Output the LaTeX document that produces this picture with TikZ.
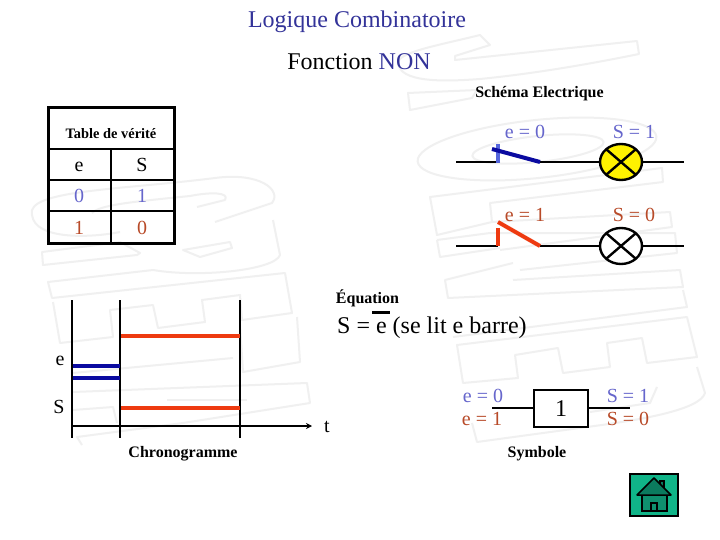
\documentclass[tikz,border=0pt]{standalone}
\usepackage{fontspec}
\setmainfont{Liberation Serif}
\usetikzlibrary{arrows.meta}
\definecolor{titleblue}{HTML}{333399}
\definecolor{softblue}{HTML}{6666CC}
\definecolor{softred}{HTML}{B84A28}
\definecolor{dkblue}{HTML}{0A0AA0}
\definecolor{tick}{HTML}{5566DD}
\definecolor{hot}{HTML}{EE3A10}
\definecolor{wm}{HTML}{F0F0F0}
\definecolor{btn}{HTML}{10B488}
\definecolor{roof}{HTML}{0B7A5E}
\definecolor{wall}{HTML}{0F8F6E}
\tikzset{
  lab/.style={inner sep=0pt,anchor=base,text=black},
  bigtxt/.style={lab,font=\fontsize{24}{26}\selectfont},
  midtxt/.style={lab,font=\fontsize{20}{22}\selectfont},
  captxt/.style={lab,font=\fontsize{16}{18}\selectfont\bfseries},
  wline/.style={draw=wm,line width=2pt,line join=round},
  wire/.style={draw=black,line width=2.4pt},
  lampbox/.style={draw=black,line width=2.4pt},
  bluesig/.style={draw=dkblue,line width=4pt},
  redsig/.style={draw=hot,line width=4pt},
  blt/.style={midtxt,text=softblue},
  rdt/.style={midtxt,text=softred},
}
\begin{document}
\begin{tikzpicture}[x=1pt,y=-1pt]
\useasboundingbox (0,0) rectangle (720,540);
\fill[white] (0,0) rectangle (720,540);
% watermark, right logo
\draw[wline] (490,45) -- (455,56) -- (455,60) -- (637,41) -- (639,54) .. controls (570,68) and (520,75) .. (480,79) .. controls (440,82) and (400,82) .. (398,63) .. controls (398,52) and (440,45) .. (480,35) -- cycle;
\draw[wline] (408,93) -- (477,90) -- (472,98) -- (410,110) -- cycle;
\draw[wline] (537,149) ellipse [x radius=120pt,y radius=29pt,rotate=6];
\draw[wline] (538,149) ellipse [x radius=66pt,y radius=13pt,rotate=6];
\draw[wline] (430,197) -- (662,168) -- (663,182) -- (490,203) -- (492,222) -- (437,235) -- cycle;
\draw[wline] (492,222) -- (670,212) -- (672,227) -- (500,250);
\draw[wline] (437,240) -- (490,233) -- (675,233) -- (677,253) -- (520,270);
\draw[wline] (437,240) -- (440,257) -- (500,248);
\draw[wline] (513,280) -- (680,270) -- (683,287) -- (448,298) -- (445,280) -- (513,263);
\draw[wline] (683,290) -- (687,307) -- (453,337);
\draw[wline] (457,345) -- (687,317) -- (697,357) -- (647,363) -- (642,338) -- (607,343) -- (610,367) -- (563,373) -- (558,348) -- (515,355) -- (518,378) -- (463,383) -- cycle;
\draw[wline] (697,367) -- (705,393) .. controls (700,410) and (640,420) .. (587,427) -- (477,442) -- (472,423);
\draw[wline] (657,387) -- (650,403) -- (590,412);
% watermark, left logo
\draw[wline] (215,222) -- (272,203) .. controls (282,190) and (260,172) .. (215,178) .. controls (120,190) and (25,190) .. (32,215) .. controls (35,240) and (90,238) .. (120,232);
\draw[wline] (197,207) -- (225,200) .. controls (230,192) and (210,192) .. (190,196) .. controls (130,202) and (100,205) .. (92,213);
\draw[wline] (42,252) -- (43,265) -- (137,255) -- (140,253) -- (120,242) -- cycle;
\draw[wline] (183,250) -- (230,242) -- (232,248) -- (200,257) -- cycle;
\draw[wline] (273,220) -- (280,255) .. controls (275,270) and (200,278) .. (153,270) -- (48,282) -- (52,298) -- (285,273) -- (292,313) -- (242,320) -- (240,295) -- (202,300) -- (205,322) -- (158,328) -- (153,305) -- (110,310) -- (113,337) -- (60,343) -- (53,302);
\draw[wline] (297,317) -- (300,362) -- (243,372) -- (240,325);
\draw[wline] (233,358) -- (73,373);
\draw[wline] (73,392) -- (307,383) -- (310,403) -- (183,423) -- (77,437) -- (82,445);
\draw[wline] (73,410) -- (113,407) -- (117,423);
\draw[wline] (167,400) -- (247,400);
% titles
\node[bigtxt,text=titleblue] (title) at (357,28) {Logique Combinatoire};
\node[bigtxt] (fonction) at (359,70) {Fonction \textcolor{titleblue}{NON}};
\node[captxt] (schema) at (539.5,98) {Schéma Electrique};
% truth table
\node[draw=black,line width=3pt,minimum width=126pt,minimum height=135pt,inner sep=0pt] (table) at (111,175.5) {};
\coordinate (l1) at (48,149); \coordinate (r1) at (174,149);
\coordinate (l2) at (48,180); \coordinate (r2) at (174,180);
\coordinate (l3) at (48,211); \coordinate (r3) at (174,211);
\coordinate (vt) at (111,149); \coordinate (vb) at (111,243);
\draw[wire] (l1) -- (r1);
\draw[wire] (l2) -- (r2);
\draw[wire] (l3) -- (r3);
\draw[wire] (vt) -- (vb);
\node[captxt,font=\fontsize{14.4}{16}\selectfont\bfseries] (tabletitle) at (111,139) {Table de vérité};
\node[midtxt] (he) at (79,172) {e};
\node[midtxt] (hs) at (142,172) {S};
\node[blt] (a0) at (79,203) {0};
\node[blt] (a1) at (142,203) {1};
\node[rdt] (b0) at (79,235) {1};
\node[rdt] (b1) at (142,235) {0};
% electric diagram, row 1
\coordinate (w1a) at (456,162); \coordinate (w1b) at (498,162);
\coordinate (w1c) at (540,162); \coordinate (w1d) at (684,162);
\coordinate (t1a) at (498,144); \coordinate (t1b) at (498,163);
\coordinate (lev1) at (492,149);
\draw[wire] (w1a) -- (w1b);
\draw[wire] (w1c) -- (w1d);
\draw[draw=tick,line width=4pt] (t1a) -- (t1b);
\draw[bluesig] (lev1) -- (w1c);
\draw[lampbox,fill=yellow] (621,162) ellipse [x radius=21pt,y radius=18pt];
\draw[lampbox] (606.5,149.5) -- (635.5,174.5);
\draw[lampbox] (606.5,174.5) -- (635.5,149.5);
\node[blt] (e0) at (525,138.5) {e = 0};
\node[blt] (s1) at (634,138.5) {S = 1};
% electric diagram, row 2
\coordinate (w2a) at (456,246); \coordinate (w2b) at (498,246);
\coordinate (w2c) at (540,246); \coordinate (w2d) at (684,246);
\coordinate (t2a) at (498,228); \coordinate (t2b) at (498,246);
\coordinate (lev2) at (498,222);
\draw[wire] (w2a) -- (w2b);
\draw[wire] (w2c) -- (w2d);
\draw[redsig] (t2a) -- (t2b);
\draw[redsig] (lev2) -- (w2c);
\draw[lampbox,fill=white] (621,246) ellipse [x radius=21pt,y radius=18pt];
\draw[lampbox] (606.5,233.5) -- (635.5,258.5);
\draw[lampbox] (606.5,258.5) -- (635.5,233.5);
\node[rdt] (e1) at (525,221.5) {e = 1};
\node[rdt] (s0) at (634,221.5) {S = 0};
% equation
\node[captxt] (equ) at (367.5,303) {Équation};
\node[bigtxt,anchor=base west] (eqn) at (337,333) {S = e (se lit e barre)};
\coordinate (ba) at (372,312.5); \coordinate (bb) at (390,312.5);
\draw[draw=black,line width=3pt] (ba) -- (bb);
% chronogram
\coordinate (c1t) at (72,300); \coordinate (c1b) at (72,438);
\coordinate (c2t) at (120,300); \coordinate (c2b) at (120,438);
\coordinate (c3t) at (240,300); \coordinate (c3b) at (240,438);
\coordinate (ax) at (72,426); \coordinate (ay) at (312,426);
\draw[wire] (c1t) -- (c1b);
\draw[wire] (c2t) -- (c2b);
\draw[wire] (c3t) -- (c3b);
\draw[wire,-{Stealth[length=6pt,width=6pt]}] (ax) -- (ay);
\coordinate (r1a) at (121,336); \coordinate (r1b) at (240,336);
\coordinate (r2a) at (121,408); \coordinate (r2b) at (240,408);
\coordinate (bl1a) at (73,366); \coordinate (bl1b) at (120,366);
\coordinate (bl2a) at (73,378); \coordinate (bl2b) at (120,378);
\draw[redsig] (r1a) -- (r1b);
\draw[redsig] (r2a) -- (r2b);
\draw[bluesig] (bl1a) -- (bl1b);
\draw[bluesig] (bl2a) -- (bl2b);
\node[midtxt] (ce) at (60,365) {e};
\node[midtxt] (cs) at (59,413) {S};
\node[midtxt] (ct) at (327,432) {t};
\node[captxt] (chrono) at (183,457) {Chronogramme};
% symbol
\node[draw=black,line width=2.4pt,minimum width=54pt,minimum height=37pt,inner sep=0pt] (gate) at (561,408.5) {};
\node[bigtxt] (one) at (561,416) {1};
\coordinate (gi) at (492,408); \coordinate (go) at (630,408);
\draw[wire] (gi) -- (gate.west |- gi);
\draw[wire] (gate.east |- go) -- (go);
\node[blt] (ge0) at (483,402) {e = 0};
\node[rdt] (ge1) at (482,425.5) {e = 1};
\node[blt] (gs1) at (628,402) {S = 1};
\node[rdt] (gs0) at (628,425.5) {S = 0};
\node[captxt] (symb) at (537,457) {Symbole};
% home button
\node[draw=black,line width=2pt,fill=btn,minimum width=48pt,minimum height=42pt,inner sep=0pt] (home) at (654,495) {};
\draw[draw=black,line width=1.5pt,fill=wall] (642,495) rectangle (667,511);
\draw[draw=black,line width=1.5pt,fill=roof] (660,481) rectangle (664,489);
\draw[draw=black,line width=1.5pt,fill=roof,line join=round] (637,495) -- (654,478) -- (671,495) -- cycle;
\draw[draw=black,line width=1.5pt] (651,511) -- (651,503) -- (657,503) -- (657,511);
\end{tikzpicture}
\end{document}
